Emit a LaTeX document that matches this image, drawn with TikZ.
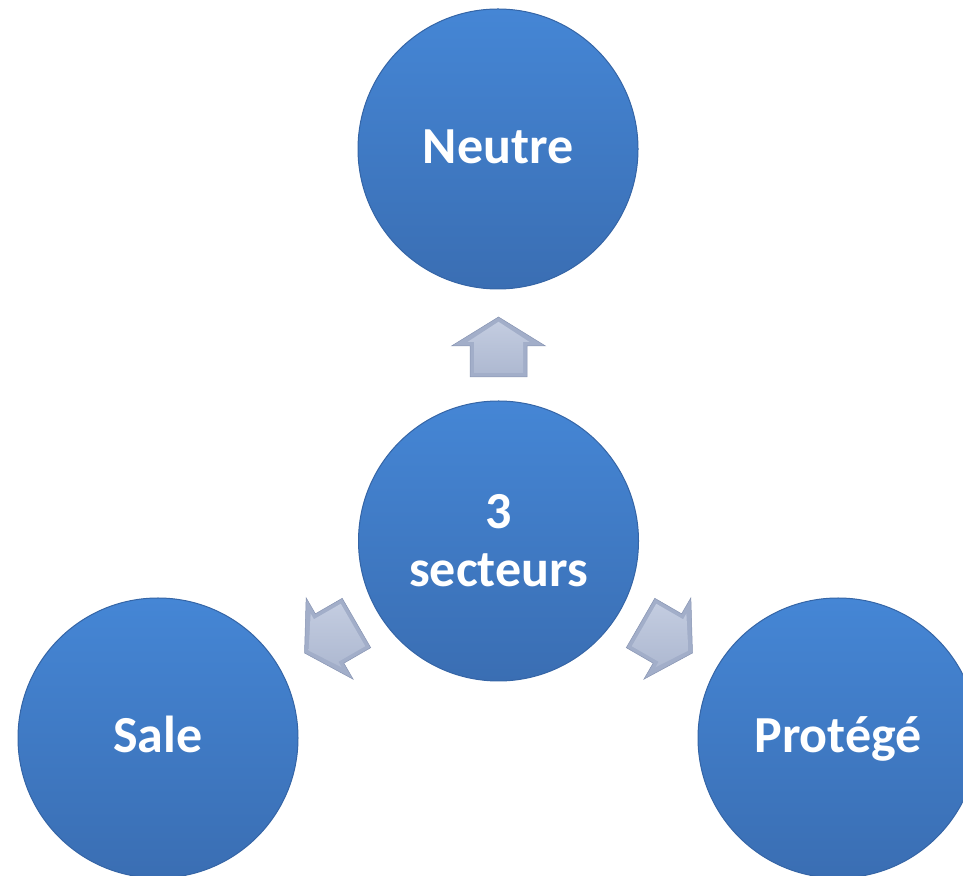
\documentclass[tikz,border=0pt]{standalone}
\usepackage{fontspec}
\setmainfont{Carlito}
\usetikzlibrary{calc}
\definecolor{ctop}{HTML}{4586D5}
\definecolor{cbot}{HTML}{3A6EB3}
\definecolor{crim}{HTML}{3565A6}
\definecolor{aouter}{HTML}{A2AEC9}
\definecolor{aline}{HTML}{8794B2}
\definecolor{ainA}{HTML}{C3CCE0}
\definecolor{ainB}{HTML}{AEB9D1}
\tikzset{
  bubble/.style={circle, minimum size=280pt, inner sep=0pt, top color=ctop, bottom color=cbot,
    draw=crim, line width=1pt, text=white, font=\bfseries\fontsize{52}{58}\selectfont, align=center},
  oneline/.style={text height=30pt, text depth=0pt},
  arrowouter/.style={fill=aouter, draw=aline, line width=0.5pt, line join=miter},
  arrowinner/.style={top color=ainA, bottom color=ainB, draw=none},
}
\newcommand{\bigarrow}{%
  \path[arrowouter] (164,-28.5) -- (195,-28.5) -- (195,-47) -- (224,0) -- (195,47) -- (195,28.5) -- (164,28.5) -- cycle;
  \path[arrowinner] (168,-24.5) -- (199,-24.5) -- (199,-31) -- (219.2,0) -- (199,31) -- (199,24.5) -- (168,24.5) -- cycle;
}
\begin{document}
\begin{tikzpicture}[x=1pt,y=1pt]
  \useasboundingbox (0,0) rectangle (963,875);
  \node[bubble, oneline] (neutre) at (498,726) {Neutre};
  \node[bubble] (centre) at (498.5,334) {3\\secteurs};
  \node[bubble, oneline] (sale) at (158,137) {Sale};
  \node[bubble, oneline] (protege) at (838,137) {Protégé};
  \begin{scope}[shift={(centre.center)}, rotate=90]\bigarrow\end{scope}
  \begin{scope}[shift={(centre.center)}, rotate=210]\bigarrow\end{scope}
  \begin{scope}[shift={(centre.center)}, rotate=-30]\bigarrow\end{scope}
\end{tikzpicture}
\end{document}
